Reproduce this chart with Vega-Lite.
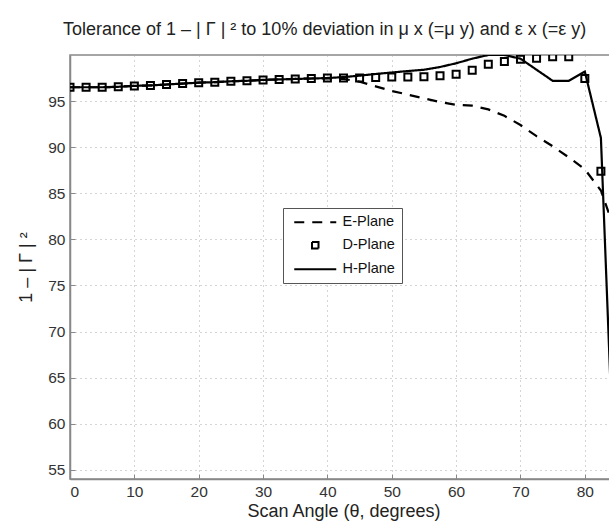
{
  "$schema": "https://vega.github.io/schema/vega-lite/v6.json",
  "width": 547,
  "height": 424,
  "autosize": {"type": "none"},
  "padding": {"left": 70, "top": 55, "right": 0, "bottom": 44},
  "background": "white",
  "title": {
    "text": "Tolerance of 1 – | Γ | ² to 10% deviation in μ x (=μ y) and ε x (=ε y)",
    "font": "Liberation Sans",
    "fontSize": 18,
    "fontWeight": "normal",
    "color": "#222",
    "anchor": "start",
    "frame": "group",
    "dx": -7,
    "offset": 16
  },
  "config": {
    "view": {"stroke": "#888", "strokeWidth": 1.5},
    "axis": {
      "labelFont": "Liberation Sans",
      "labelFontSize": 15.5,
      "labelColor": "#333",
      "titleFont": "Liberation Sans",
      "titleFontSize": 18,
      "titleFontWeight": "normal",
      "titleColor": "#222",
      "domainColor": "#888",
      "domainWidth": 1.5,
      "tickColor": "#888",
      "tickSize": -5,
      "gridColor": "#aaa",
      "gridDash": [1, 4],
      "gridWidth": 1
    },
    "legend": {
      "labelFont": "Liberation Sans",
      "labelFontSize": 14.5,
      "labelColor": "#111",
      "strokeColor": "#555",
      "fillColor": "white",
      "padding": 7,
      "symbolStrokeColor": "black",
      "symbolStrokeWidth": 2,
      "symbolSize": 100,
      "rowPadding": 8,
      "labelOffset": 38
    }
  },
  "data": {
    "values": [
      {"series": "D-Plane", "x": 0, "y": 96.5}, {"series": "D-Plane", "x": 2.5, "y": 96.5}, {"series": "D-Plane", "x": 5, "y": 96.5}, {"series": "D-Plane", "x": 7.5, "y": 96.55}, {"series": "D-Plane", "x": 10, "y": 96.65}, {"series": "D-Plane", "x": 12.5, "y": 96.7}, {"series": "D-Plane", "x": 15, "y": 96.8}, {"series": "D-Plane", "x": 17.5, "y": 96.9}, {"series": "D-Plane", "x": 20, "y": 97.0}, {"series": "D-Plane", "x": 22.5, "y": 97.05}, {"series": "D-Plane", "x": 25, "y": 97.15}, {"series": "D-Plane", "x": 27.5, "y": 97.2}, {"series": "D-Plane", "x": 30, "y": 97.3}, {"series": "D-Plane", "x": 32.5, "y": 97.35}, {"series": "D-Plane", "x": 35, "y": 97.4}, {"series": "D-Plane", "x": 37.5, "y": 97.45}, {"series": "D-Plane", "x": 40, "y": 97.5}, {"series": "D-Plane", "x": 42.5, "y": 97.5}, {"series": "D-Plane", "x": 45, "y": 97.5}, {"series": "D-Plane", "x": 47.5, "y": 97.55}, {"series": "D-Plane", "x": 50, "y": 97.6}, {"series": "D-Plane", "x": 52.5, "y": 97.6}, {"series": "D-Plane", "x": 55, "y": 97.65}, {"series": "D-Plane", "x": 57.5, "y": 97.75}, {"series": "D-Plane", "x": 60, "y": 97.9}, {"series": "D-Plane", "x": 62.5, "y": 98.35}, {"series": "D-Plane", "x": 65, "y": 99.0}, {"series": "D-Plane", "x": 67.5, "y": 99.3}, {"series": "D-Plane", "x": 70, "y": 99.55}, {"series": "D-Plane", "x": 72.5, "y": 99.65}, {"series": "D-Plane", "x": 75, "y": 99.8}, {"series": "D-Plane", "x": 77.5, "y": 99.8}, {"series": "D-Plane", "x": 80, "y": 97.45}, {"series": "D-Plane", "x": 82.5, "y": 87.4},
      {"series": "H-Plane", "x": 0, "y": 96.5}, {"series": "H-Plane", "x": 2.5, "y": 96.5}, {"series": "H-Plane", "x": 5, "y": 96.5}, {"series": "H-Plane", "x": 7.5, "y": 96.55}, {"series": "H-Plane", "x": 10, "y": 96.65}, {"series": "H-Plane", "x": 12.5, "y": 96.7}, {"series": "H-Plane", "x": 15, "y": 96.8}, {"series": "H-Plane", "x": 17.5, "y": 96.9}, {"series": "H-Plane", "x": 20, "y": 97.0}, {"series": "H-Plane", "x": 22.5, "y": 97.05}, {"series": "H-Plane", "x": 25, "y": 97.15}, {"series": "H-Plane", "x": 27.5, "y": 97.2}, {"series": "H-Plane", "x": 30, "y": 97.3}, {"series": "H-Plane", "x": 32.5, "y": 97.35}, {"series": "H-Plane", "x": 35, "y": 97.4}, {"series": "H-Plane", "x": 37.5, "y": 97.45}, {"series": "H-Plane", "x": 40, "y": 97.5}, {"series": "H-Plane", "x": 42.5, "y": 97.6}, {"series": "H-Plane", "x": 45, "y": 97.76}, {"series": "H-Plane", "x": 47.5, "y": 97.94}, {"series": "H-Plane", "x": 50, "y": 98.1}, {"series": "H-Plane", "x": 52.5, "y": 98.26}, {"series": "H-Plane", "x": 55, "y": 98.4}, {"series": "H-Plane", "x": 57.5, "y": 98.7}, {"series": "H-Plane", "x": 60, "y": 99.1}, {"series": "H-Plane", "x": 62.5, "y": 99.6}, {"series": "H-Plane", "x": 65, "y": 100}, {"series": "H-Plane", "x": 67.5, "y": 100}, {"series": "H-Plane", "x": 70, "y": 99.6}, {"series": "H-Plane", "x": 72.5, "y": 98.4}, {"series": "H-Plane", "x": 75, "y": 97.2}, {"series": "H-Plane", "x": 77.5, "y": 97.2}, {"series": "H-Plane", "x": 80, "y": 98.2}, {"series": "H-Plane", "x": 82.5, "y": 91.0}, {"series": "H-Plane", "x": 85, "y": 46},
      {"series": "E-Plane", "x": 0, "y": 96.5}, {"series": "E-Plane", "x": 2.5, "y": 96.5}, {"series": "E-Plane", "x": 5, "y": 96.5}, {"series": "E-Plane", "x": 7.5, "y": 96.55}, {"series": "E-Plane", "x": 10, "y": 96.65}, {"series": "E-Plane", "x": 12.5, "y": 96.7}, {"series": "E-Plane", "x": 15, "y": 96.8}, {"series": "E-Plane", "x": 17.5, "y": 96.9}, {"series": "E-Plane", "x": 20, "y": 97.0}, {"series": "E-Plane", "x": 22.5, "y": 97.05}, {"series": "E-Plane", "x": 25, "y": 97.15}, {"series": "E-Plane", "x": 27.5, "y": 97.2}, {"series": "E-Plane", "x": 30, "y": 97.3}, {"series": "E-Plane", "x": 32.5, "y": 97.35}, {"series": "E-Plane", "x": 35, "y": 97.4}, {"series": "E-Plane", "x": 37.5, "y": 97.45}, {"series": "E-Plane", "x": 40, "y": 97.45}, {"series": "E-Plane", "x": 42.5, "y": 97.4}, {"series": "E-Plane", "x": 45, "y": 97.1}, {"series": "E-Plane", "x": 47.5, "y": 96.6}, {"series": "E-Plane", "x": 50, "y": 96.1}, {"series": "E-Plane", "x": 52.5, "y": 95.7}, {"series": "E-Plane", "x": 55, "y": 95.3}, {"series": "E-Plane", "x": 57.5, "y": 94.9}, {"series": "E-Plane", "x": 60, "y": 94.6}, {"series": "E-Plane", "x": 62.5, "y": 94.5}, {"series": "E-Plane", "x": 65, "y": 94.1}, {"series": "E-Plane", "x": 67.5, "y": 93.4}, {"series": "E-Plane", "x": 70, "y": 92.4}, {"series": "E-Plane", "x": 72.5, "y": 91.2}, {"series": "E-Plane", "x": 75, "y": 90.1}, {"series": "E-Plane", "x": 77.5, "y": 88.9}, {"series": "E-Plane", "x": 80, "y": 87.6}, {"series": "E-Plane", "x": 82.5, "y": 85.3}, {"series": "E-Plane", "x": 85, "y": 80.3}
    ]
  },
  "encoding": {
    "x": {
      "field": "x",
      "type": "quantitative",
      "scale": {"domain": [0, 85], "nice": false, "zero": false},
      "axis": {
        "values": [0, 10, 20, 30, 40, 50, 60, 70, 80],
        "labelPadding": 10,
        "title": "Scan Angle (θ, degrees)",
        "titlePadding": 3
      }
    },
    "y": {
      "field": "y",
      "type": "quantitative",
      "scale": {"domain": [54, 100], "nice": false, "zero": false},
      "axis": {
        "values": [55, 60, 65, 70, 75, 80, 85, 90, 95],
        "labelPadding": 10,
        "title": "1 – | Γ | ²",
        "titlePadding": 12
      }
    }
  },
  "layer": [
    {
      "transform": [{"filter": "datum.series !== 'D-Plane'"}],
      "mark": {"type": "line", "color": "black", "strokeWidth": 2.2, "clip": true},
      "encoding": {
        "detail": {"field": "series"},
        "strokeDash": {
          "field": "series",
          "type": "nominal",
          "scale": {"domain": ["E-Plane", "D-Plane", "H-Plane"], "range": [[10, 8], [1, 0], [1, 0]]},
          "legend": {"title": null, "orient": "none", "legendX": 213, "legendY": 153}
        }
      }
    },
    {
      "transform": [{"filter": "datum.series === 'D-Plane'"}],
      "mark": {"type": "point", "shape": "square", "filled": false, "color": "black", "strokeWidth": 2, "size": 49, "opacity": 1, "clip": true}
    },
    {
      "transform": [{"filter": "datum.x < 0"}],
      "mark": {"type": "point", "filled": false, "color": "black", "strokeWidth": 2, "opacity": 1},
      "encoding": {
        "shape": {
          "field": "series",
          "type": "nominal",
          "scale": {"domain": ["E-Plane", "D-Plane", "H-Plane"], "range": ["M-0.6,0H7.8", "M2.95,-0.65H4.25V0.65H2.95Z", "M-0.6,0H7.8"]},
          "legend": {"title": null, "orient": "none", "legendX": 213, "legendY": 153}
        },
        "strokeDash": {
          "field": "series",
          "type": "nominal",
          "scale": {"domain": ["E-Plane", "D-Plane", "H-Plane"], "range": [[10, 8], [1, 0], [1, 0]]},
          "legend": {"title": null, "orient": "none", "legendX": 213, "legendY": 153}
        }
      }
    }
  ]
}
